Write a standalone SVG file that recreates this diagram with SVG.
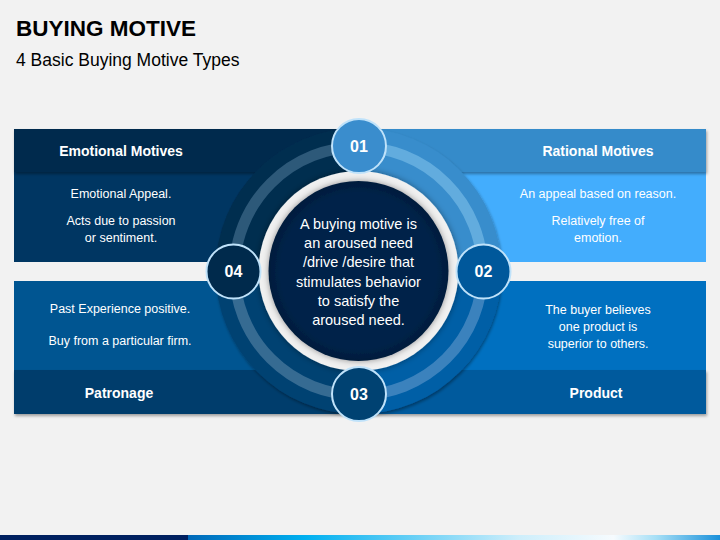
<svg xmlns="http://www.w3.org/2000/svg" width="720" height="540" viewBox="0 0 720 540">
<defs>
<filter id="sh" x="-10%" y="-20%" width="120%" height="150%">
<feDropShadow dx="1" dy="2" stdDeviation="1.5" flood-color="#000" flood-opacity="0.35"/>
</filter>
<filter id="sh2" x="-20%" y="-20%" width="140%" height="140%">
<feDropShadow dx="0" dy="0" stdDeviation="3" flood-color="#000" flood-opacity="0.4"/>
</filter>
<linearGradient id="bar" x1="0" y1="0" x2="1" y2="0">
<stop offset="0" stop-color="#0068b8"/>
<stop offset="0.22" stop-color="#00b0f0"/>
<stop offset="0.62" stop-color="#cdeefb"/>
<stop offset="0.8" stop-color="#f6fbfe"/>
<stop offset="0.88" stop-color="#a6dff6"/>
<stop offset="1" stop-color="#1a90da"/>
</linearGradient>
<radialGradient id="core" cx="0.5" cy="0.5" r="0.5">
<stop offset="0.85" stop-color="#00234a"/>
<stop offset="1" stop-color="#001c3c"/>
</radialGradient>
</defs>
<style>
.t{font-family:"Liberation Sans",Arial,sans-serif;fill:#fff;text-anchor:middle}
.h{font-size:14px;font-weight:bold}
.b{font-size:12.5px}
.c{font-size:14.5px}
.n{font-size:16px;font-weight:bold}
.badge{stroke:#bfe2fa;stroke-width:2}
</style>
<rect width="720" height="540" fill="#f2f2f2"/>
<text x="16" y="36" font-family="'Liberation Sans',Arial,sans-serif" font-size="22.5" font-weight="bold" fill="#000">BUYING MOTIVE</text>
<text x="16" y="66" font-family="'Liberation Sans',Arial,sans-serif" font-size="17.5" fill="#000">4 Basic Buying Motive Types</text>

<g id="panel-emotional">
<rect x="14" y="172" width="345" height="90" fill="#003662"/>
<rect x="14" y="129" width="345" height="43" fill="#012b4d" filter="url(#sh)"/>
</g>
<g id="panel-rational">
<rect x="358" y="172" width="348" height="90" fill="#43adfd"/>
<rect x="358" y="129" width="348" height="43" fill="#368bca" filter="url(#sh)"/>
</g>
<g id="panel-patronage">
<rect x="14" y="281" width="345" height="90" fill="#005591"/>
<rect x="14" y="370" width="345" height="44" fill="#003d6c" filter="url(#sh)"/>
</g>
<g id="panel-product">
<rect x="358" y="281" width="348" height="90" fill="#0070c0"/>
<rect x="358" y="370" width="348" height="44" fill="#005a9d" filter="url(#sh)"/>
</g>

<g id="disk" filter="url(#sh)">
<path d="M358.5 271 L215.5 271 A143 143 0 0 1 358.5 128 Z" fill="#022d50"/>
<path d="M358.5 271 L358.5 128 A143 143 0 0 1 501.5 271 Z" fill="#388dcc"/>
<path d="M358.5 271 L501.5 271 A143 143 0 0 1 358.5 414 Z" fill="#005fa6"/>
<path d="M358.5 271 L358.5 414 A143 143 0 0 1 215.5 271 Z" fill="#004272"/>
</g>

<g id="connectors" fill="none" stroke-width="11">
<path d="M234.5 271 A124 124 0 0 1 358.5 147" stroke="#2d5979"/>
<path d="M358.5 147 A124 124 0 0 1 482.5 271" stroke="#62acde"/>
<path d="M482.5 271 A124 124 0 0 1 358.5 395" stroke="#3b82bd"/>
<path d="M358.5 395 A124 124 0 0 1 234.5 271" stroke="#366b92"/>
</g>

<g id="center">
<circle cx="358.5" cy="271" r="100" fill="#f0f0f0" filter="url(#sh2)"/>
<circle cx="358.5" cy="271" r="90" fill="url(#core)" filter="url(#sh2)"/>
<text class="t c" x="358.5" y="229">A buying motive is</text>
<text class="t c" x="358.5" y="248">an aroused need</text>
<text class="t c" x="358.5" y="267">/drive /desire that</text>
<text class="t c" x="358.5" y="287">stimulates behavior</text>
<text class="t c" x="358.5" y="306">to satisfy the</text>
<text class="t c" x="358.5" y="325">aroused need.</text>
</g>

<g id="text-emotional">
<text class="t h" x="121" y="156">Emotional Motives</text>
<text class="t b" x="121" y="198">Emotional Appeal.</text>
<text class="t b" x="121" y="225">Acts due to passion</text>
<text class="t b" x="121" y="242">or sentiment.</text>
</g>
<g id="text-rational">
<text class="t h" x="598" y="156">Rational Motives</text>
<text class="t b" x="598" y="198">An appeal based on reason.</text>
<text class="t b" x="598" y="225">Relatively free of</text>
<text class="t b" x="598" y="242">emotion.</text>
</g>
<g id="text-patronage">
<text class="t b" x="120" y="313">Past Experience positive.</text>
<text class="t b" x="120" y="345">Buy from a particular firm.</text>
<text class="t h" x="119" y="398">Patronage</text>
</g>
<g id="text-product">
<text class="t b" x="598" y="314">The buyer believes</text>
<text class="t b" x="598" y="331">one product is</text>
<text class="t b" x="598" y="348">superior to others.</text>
<text class="t h" x="596" y="398">Product</text>
</g>

<g id="badge-01">
<circle class="badge" cx="359" cy="146" r="27" fill="#3a8dcd"/>
<text class="t n" x="359" y="151.5">01</text>
</g>
<g id="badge-02">
<circle class="badge" cx="483.5" cy="271.5" r="27" fill="#00589b"/>
<text class="t n" x="483.5" y="277">02</text>
</g>
<g id="badge-03">
<circle class="badge" cx="359" cy="394" r="27" fill="#004272"/>
<text class="t n" x="359" y="399.5">03</text>
</g>
<g id="badge-04">
<circle class="badge" cx="233.5" cy="271.5" r="27" fill="#002a4c"/>
<text class="t n" x="233.5" y="277">04</text>
</g>

<rect x="0" y="535" width="188" height="5" fill="#002060"/>
<rect x="188" y="535" width="532" height="5" fill="url(#bar)"/>
</svg>
